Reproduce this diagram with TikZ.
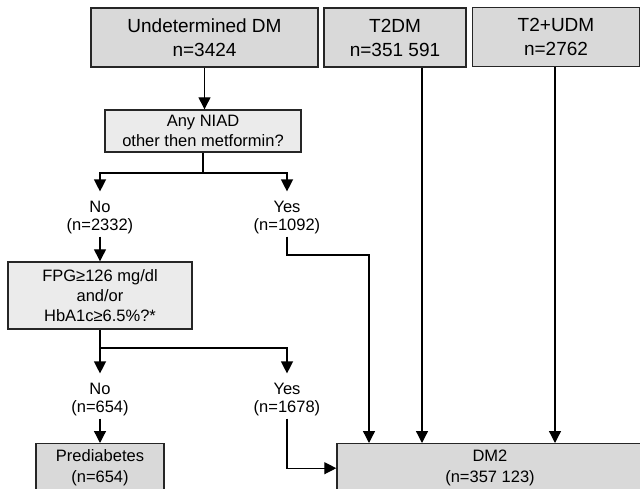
\documentclass[tikz,border=0pt]{standalone}
\usepackage{fontspec}
\setmainfont{Liberation Sans}
\usepackage{tikz}
\usetikzlibrary{calc,arrows.meta}
\definecolor{srcfill}{HTML}{D9D9D9}
\definecolor{qfill}{HTML}{EBEBEB}
\definecolor{edge}{HTML}{262626}
\tikzset{
  src/.style={draw=edge, fill=srcfill, line width=1.4pt, align=center, inner sep=0pt, font=\fontsize{19}{24}\selectfont},
  qbox/.style={draw=edge, fill=qfill, line width=1.4pt, align=center, inner sep=0pt, font=\fontsize{16.5}{20}\selectfont},
  res/.style={draw=edge, fill=srcfill, line width=1.4pt, align=center, inner sep=0pt, anchor=north, minimum height=49pt, font=\fontsize{16.5}{21}\selectfont},
  lab/.style={align=center, inner sep=2pt, font=\fontsize{16.5}{18}\selectfont},
  flow/.style={draw=black, line width=1.3pt, -{Triangle[length=12pt,width=12pt]}},
  tolab/.style={flow, shorten >=8pt},
}

\begin{document}
\begin{tikzpicture}[x=1pt,y=-1pt]
  \useasboundingbox (0,0) rectangle (640,489);
  \clip (0,0) rectangle (640,489);

  % source boxes
  \node[src, minimum width=227pt, minimum height=59pt] (udm) at (204.5,37.5) {Undetermined DM\\n=3424};
  \node[src, minimum width=142pt, minimum height=59pt] (t2dm) at (395,37.5) {T2DM\\n=351 591};
  \node[src, minimum width=167pt, minimum height=59pt] (t2udm) at (556,37) {T2+UDM\\n=2762};

  % questions
  \node[qbox, minimum width=196pt, minimum height=42pt] (niad) at (203,131) {Any NIAD\\other then metformin?};
  \node[qbox, minimum width=184pt, minimum height=67pt] (fpg) at (100,295.5) {FPG≥126 mg/dl\\and/or\\HbA1c≥6.5\%?*};

  % answers
  \node[lab] (no1) at (100,218) {No\\(n=2332)};
  \node[lab] (yes1) at (287,218) {Yes\\(n=1092)};
  \node[lab] (no2) at (100,400) {No\\(n=654)};
  \node[lab] (yes2) at (287,400) {Yes\\(n=1678)};

  % outcomes
  \node[res, minimum width=128pt] (pre) at (100,443) {Prediabetes\\(n=654)};
  \node[res, minimum width=306pt] (dm2) at (490,443) {DM2\\(n=357 123)};

  \coordinate (s1) at (0,173);
  \coordinate (s2) at (0,348);
  \coordinate (k1) at (369,255);
  \coordinate (k2) at (422,0);
  \coordinate (k3) at (555,0);

  \draw[flow] (udm.south) -- (udm.south |- niad.north);
  \draw[tolab] (niad.south) |- (no1.north |- s1) -- (no1.north);
  \draw[tolab] (niad.south |- s1) -| (yes1.north);
  \draw[flow] (no1.south) -- (no1.south |- fpg.north);
  \draw[tolab] (fpg.south) |- (no2.north |- s2) -- (no2.north);
  \draw[tolab] (fpg.south |- s2) -| (yes2.north);
  \draw[flow] (no2.south) -- (pre.north);
  \draw[flow] (yes2.south) |- (dm2.west);
  \draw[flow] (yes1.south) |- (k1) -- (k1 |- dm2.north);
  \draw[flow] (t2dm.south -| k2) -- (dm2.north -| k2);
  \draw[flow] (t2udm.south -| k3) -- (dm2.north -| k3);
\end{tikzpicture}
\end{document}
